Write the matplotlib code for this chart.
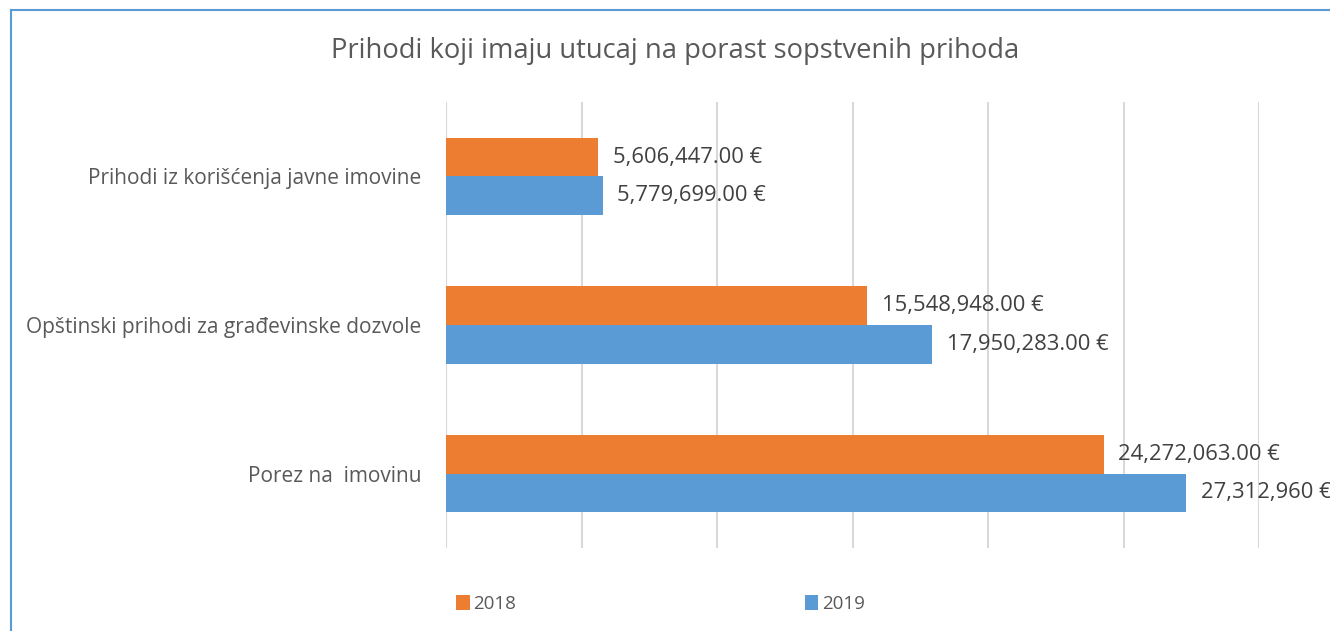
import matplotlib
matplotlib.use("Agg")
import matplotlib.pyplot as plt
from matplotlib.patches import Patch
from matplotlib.lines import Line2D

plt.rcParams['font.family'] = ['Open Sans', 'DejaVu Sans']

categories = ["Porez na  imovinu", "Opštinski prihodi za građevinske dozvole", "Prihodi iz korišćenja javne imovine"]
values_2018 = [24272063.00, 15548948.00, 5606447.00]
values_2019 = [27312960, 17950283.00, 5779699.00]
labels_2018 = ["24,272,063.00 €", "15,548,948.00 €", "5,606,447.00 €"]
labels_2019 = ["27,312,960 €", "17,950,283.00 €", "5,779,699.00 €"]
series_names = ["2018", "2019"]
title = "Prihodi koji imaju utucaj na porast sopstvenih prihoda"

c2018 = "#ED7D31"
c2019 = "#5B9BD5"

W, H = 1330, 631
fig = plt.figure(figsize=(W / 100, H / 100), dpi=100)
ax = fig.add_axes([446 / W, 1 - 548 / H, (1259 - 446) / W, (548 - 102) / H])

ypos = list(range(len(categories)))
bh = 0.26
ax.barh([y + bh / 2 for y in ypos], values_2018, height=bh, color=c2018, zorder=3)
ax.barh([y - bh / 2 for y in ypos], values_2019, height=bh, color=c2019, zorder=3)

for y, v, lab in zip(ypos, values_2018, labels_2018):
    ax.annotate(lab, (v, y + bh / 2), xytext=(10.5, 0), textcoords="offset points",
                va="center", ha="left", fontsize=15.8, color="#404040")
for y, v, lab in zip(ypos, values_2019, labels_2019):
    ax.annotate(lab, (v, y - bh / 2), xytext=(10.5, 0), textcoords="offset points",
                va="center", ha="left", fontsize=15.8, color="#404040")

ax.set_xlim(0, 30000000)
ax.set_ylim(-0.5, len(categories) - 0.5)
ax.set_xticks(range(0, 30000001, 5000000))
ax.set_xticklabels([])
ax.tick_params(axis="x", length=0)
ax.set_yticks(ypos)
ax.set_yticklabels(categories, fontsize=15, color="#595959")
ax.tick_params(axis="y", length=0, pad=18)
ax.grid(axis="x", color="#D9D9D9", linewidth=1.5, zorder=0)
for s in ax.spines.values():
    s.set_visible(False)

fig.text(675 / W, 1 - 51 / H, title, ha="center", va="center", fontsize=19.7,
         color="#595959")

handles = [Patch(facecolor=c2018, edgecolor="none"), Patch(facecolor=c2019, edgecolor="none")]
fig.legend(handles, series_names, loc="center left", bbox_to_anchor=(447 / W, 1 - 604 / H),
           ncol=2, frameon=False, fontsize=13.5, handlelength=0.7, handleheight=0.8,
           handletextpad=0.2, columnspacing=15.4, borderpad=0, labelcolor="#595959")

# chart border (left and top edges visible)
fig.add_artist(Line2D([11 / W, 11 / W], [1 - 10 / H, 0], transform=fig.transFigure,
                      color=c2019, linewidth=1.5))
fig.add_artist(Line2D([11 / W, 1], [1 - 10 / H, 1 - 10 / H], transform=fig.transFigure,
                      color=c2019, linewidth=1.5))

fig.savefig("out.png", dpi=100)
